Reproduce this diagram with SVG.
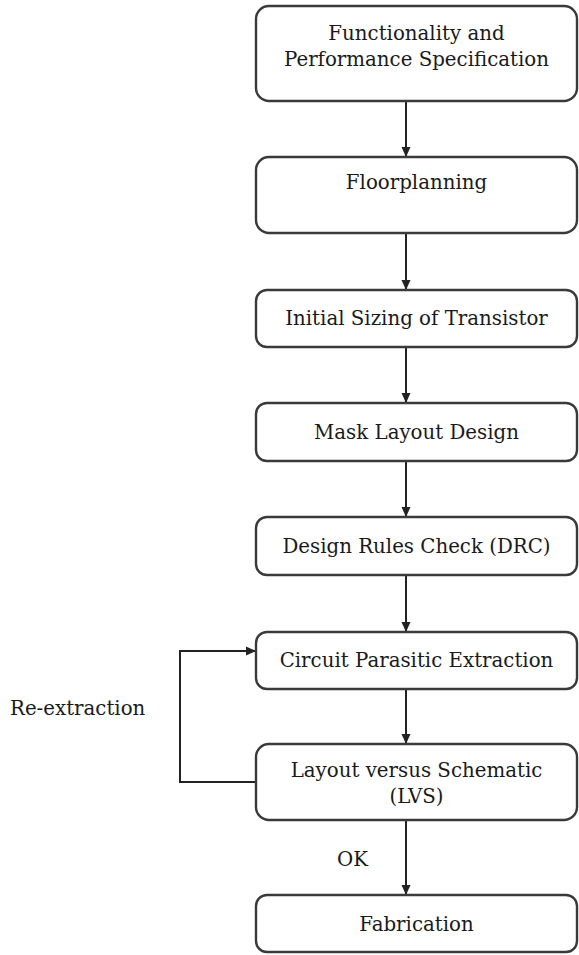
<svg xmlns="http://www.w3.org/2000/svg" width="579" height="955" viewBox="0 0 579 955">
<style>
.box{fill:#fff;stroke:#3a3a3a;stroke-width:2.4}
.t{font-family:"DejaVu Serif","Liberation Serif",serif;font-size:19.8px;fill:#1a1a1a;text-anchor:middle}
.l{font-family:"DejaVu Serif","Liberation Serif",serif;font-size:19.8px;fill:#1a1a1a}
.c{fill:none;stroke:#222;stroke-width:2}
</style>
<defs>
<marker id="ah" markerWidth="10" markerHeight="10" refX="9" refY="5" orient="auto" markerUnits="userSpaceOnUse">
<path d="M0,0.5 L10,5 L0,9.5 z" fill="#222"/>
</marker>
</defs>
<rect width="579" height="955" fill="#fff"/>
<g id="connectors">
<line class="c" x1="406" y1="101" x2="406" y2="156" marker-end="url(#ah)"/>
<line class="c" x1="406" y1="233" x2="406" y2="289" marker-end="url(#ah)"/>
<line class="c" x1="406" y1="347" x2="406" y2="402" marker-end="url(#ah)"/>
<line class="c" x1="406" y1="461" x2="406" y2="516" marker-end="url(#ah)"/>
<line class="c" x1="406" y1="575" x2="406" y2="631" marker-end="url(#ah)"/>
<line class="c" x1="406" y1="689" x2="406" y2="743" marker-end="url(#ah)"/>
<line class="c" x1="406" y1="820" x2="406" y2="894" marker-end="url(#ah)"/>
<polyline class="c" points="256,782 180,782 180,651 255,651" marker-end="url(#ah)"/>
<text class="l" x="10" y="715">Re-extraction</text>
<text class="l" x="337" y="866">OK</text>
</g>
<g id="n1"><rect class="box" x="256" y="6" width="321" height="95" rx="13"/>
<text class="t" x="416.5" y="40">Functionality and</text>
<text class="t" x="416.5" y="66">Performance Specification</text></g>
<g id="n2"><rect class="box" x="256" y="157" width="321" height="76" rx="13"/>
<text class="t" x="416.5" y="189">Floorplanning</text></g>
<g id="n3"><rect class="box" x="256" y="290" width="321" height="57" rx="11"/>
<text class="t" x="416.5" y="325">Initial Sizing of Transistor</text></g>
<g id="n4"><rect class="box" x="256" y="403" width="321" height="58" rx="11"/>
<text class="t" x="416.5" y="439">Mask Layout Design</text></g>
<g id="n5"><rect class="box" x="256" y="517" width="321" height="58" rx="11"/>
<text class="t" x="416.5" y="553">Design Rules Check (DRC)</text></g>
<g id="n6"><rect class="box" x="256" y="632" width="321" height="57" rx="11"/>
<text class="t" x="416.5" y="667">Circuit Parasitic Extraction</text></g>
<g id="n7"><rect class="box" x="256" y="744" width="321" height="76" rx="13"/>
<text class="t" x="416.5" y="777">Layout versus Schematic</text>
<text class="t" x="416.5" y="803">(LVS)</text></g>
<g id="n8"><rect class="box" x="256" y="895" width="321" height="57" rx="11"/>
<text class="t" x="416.5" y="931">Fabrication</text></g>
</svg>
